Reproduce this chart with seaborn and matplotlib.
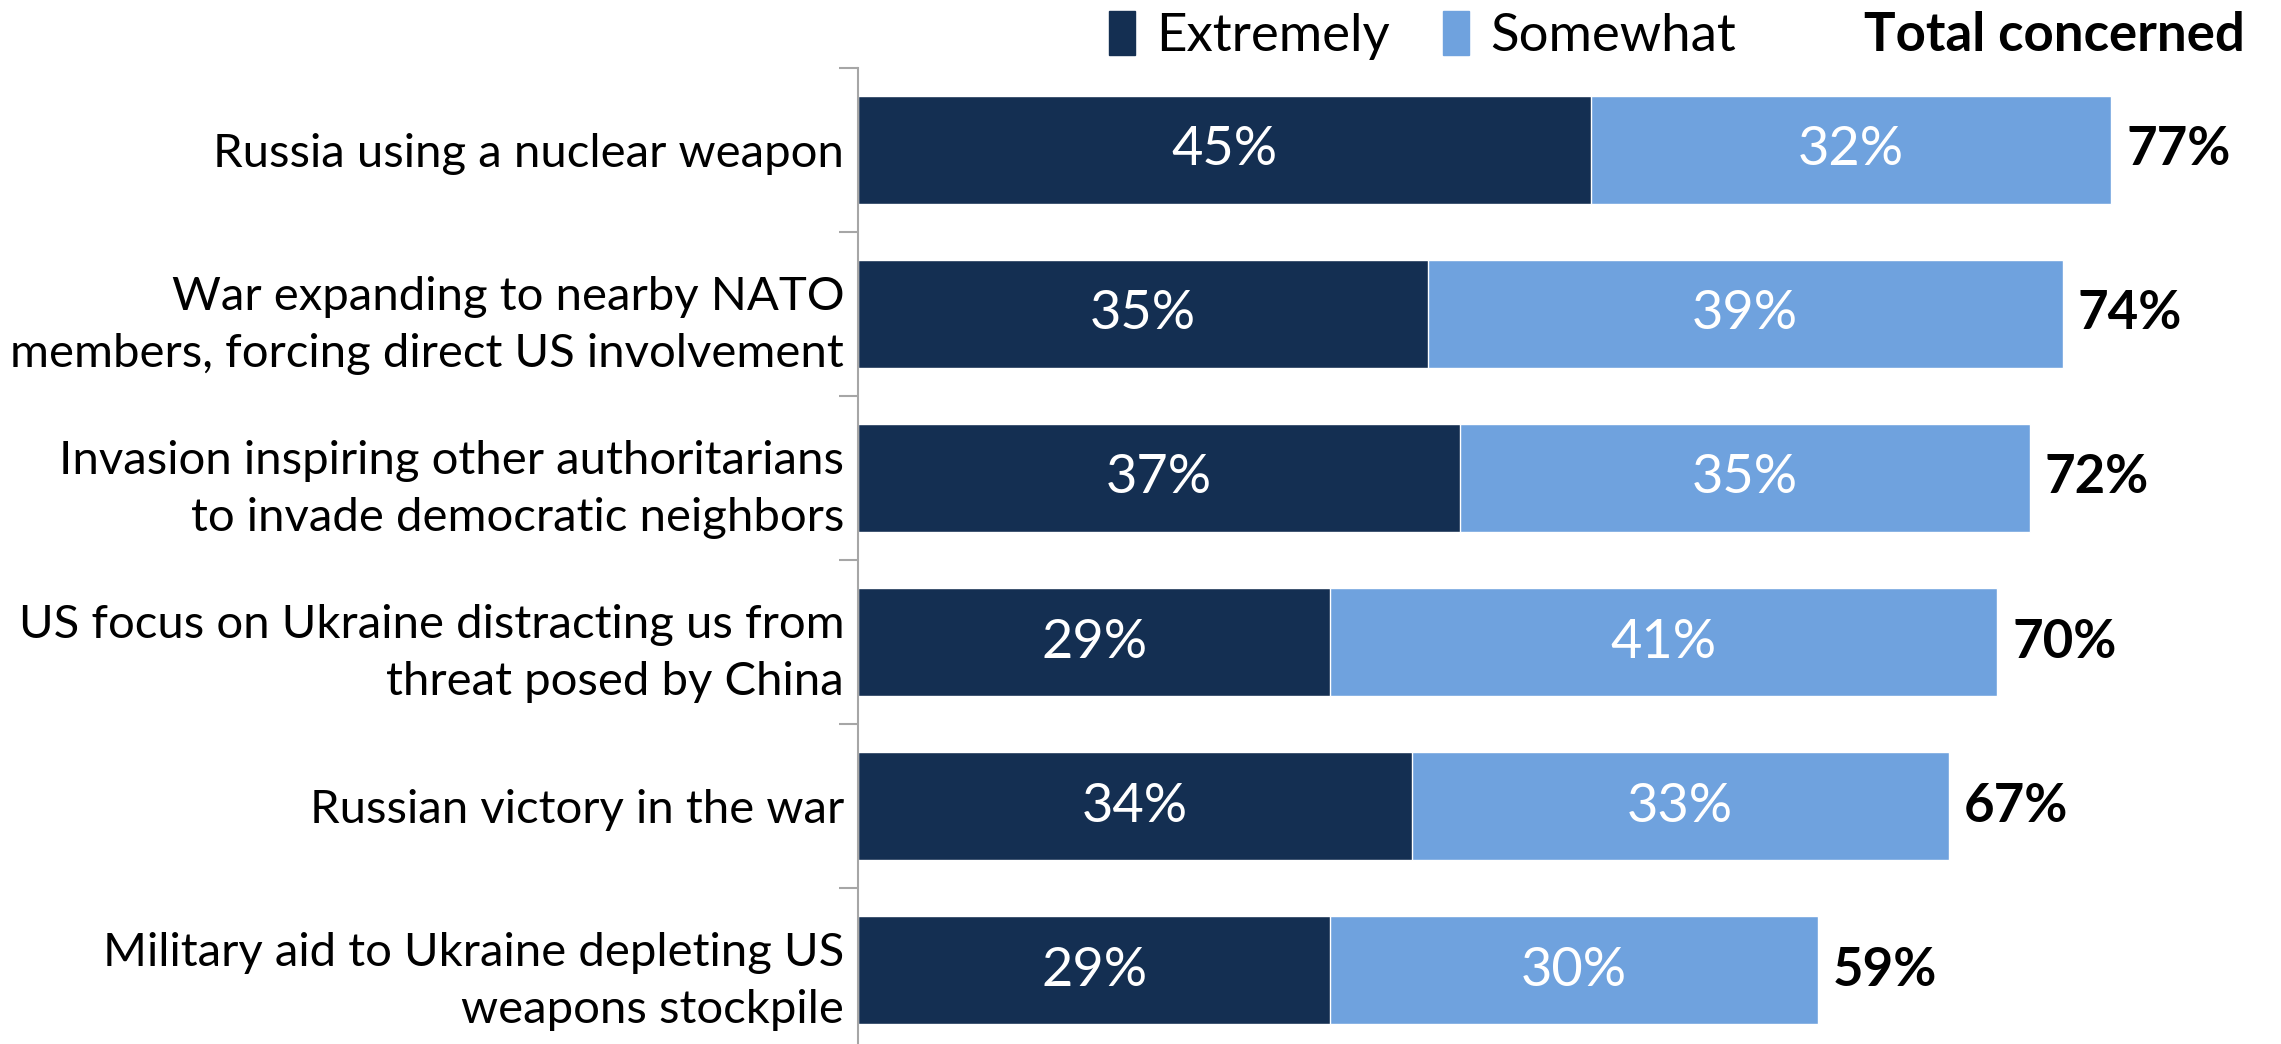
import matplotlib
matplotlib.use("Agg")
import matplotlib.pyplot as plt
import seaborn as sns
import pandas as pd
from matplotlib.patches import Patch

categories = [
    "Russia using a nuclear weapon",
    "War expanding to nearby NATO\nmembers, forcing direct US involvement",
    "Invasion inspiring other authoritarians\nto invade democratic neighbors",
    "US focus on Ukraine distracting us from\nthreat posed by China",
    "Russian victory in the war",
    "Military aid to Ukraine depleting US\nweapons stockpile",
]
extremely = [45, 35, 37, 29, 34, 29]
somewhat = [32, 39, 35, 41, 33, 30]
totals = [e + s for e, s in zip(extremely, somewhat)]

dark = "#142F52"
light = "#6FA2DE"

df = pd.DataFrame({"issue": categories, "Extremely": extremely,
                   "Somewhat": somewhat, "Total": totals})

sns.set_style("white")
plt.rcParams["font.family"] = ["Lato", "DejaVu Sans"]
plt.rcParams["text.color"] = "black"
plt.rcParams["ytick.color"] = "black"

fig = plt.figure(figsize=(22.81, 10.44), dpi=100)
ax = fig.add_axes([0.3762, -0.0077, 0.6208, 0.9426])

# stacked: full total in light, extremely on top in dark
sns.barplot(data=df, x="Total", y="issue", color=light, width=0.66,
            saturation=1, ax=ax, orient="h")
sns.barplot(data=df, x="Extremely", y="issue", color=dark, width=0.66,
            saturation=1, ax=ax, orient="h")

fs = 39
for i, (e, s, t) in enumerate(zip(extremely, somewhat, totals)):
    ax.text(e / 2, i, f"{e}%", color="white", ha="center", va="center", fontsize=fs)
    ax.text(e + s / 2, i, f"{s}%", color="white", ha="center", va="center", fontsize=fs)
    ax.text(t + 0.9, i, f"{t}%", color="black", ha="left", va="center",
            fontsize=38, fontweight="bold")

ax.set_xlim(0, 87)
ax.set_ylim(len(categories) - 0.5, -0.5)
ax.set_xlabel("")
ax.set_ylabel("")
ax.set_xticks([])
for side in ["top", "right", "bottom"]:
    ax.spines[side].set_visible(False)
ax.spines["left"].set_color("#A6A6A6")
ax.spines["left"].set_linewidth(1.5)

ax.set_yticks(range(len(categories)))
ax.set_yticklabels(categories, fontsize=34, linespacing=1.44, ha="right")
ax.tick_params(axis="y", which="major", left=False, length=0, pad=10,
               labelcolor="black")
ax.set_yticks([i - 0.5 for i in range(len(categories) + 1)], minor=True)
ax.tick_params(axis="y", which="minor", left=True, length=14, width=1.5,
               color="#A6A6A6")

handles = [Patch(color=dark, label="Extremely"), Patch(color=light, label="Somewhat")]
fig.legend(handles=handles, loc="center left", bbox_to_anchor=(0.486, 0.966),
           ncol=2, frameon=False, fontsize=38, handlelength=0.5, handleheight=0.9,
           handletextpad=0.4, columnspacing=1.0, borderaxespad=0, borderpad=0)
fig.text(0.984, 0.966, "Total concerned", ha="right", va="center",
         fontsize=38, fontweight="bold")

fig.savefig("out.png", dpi=100)
